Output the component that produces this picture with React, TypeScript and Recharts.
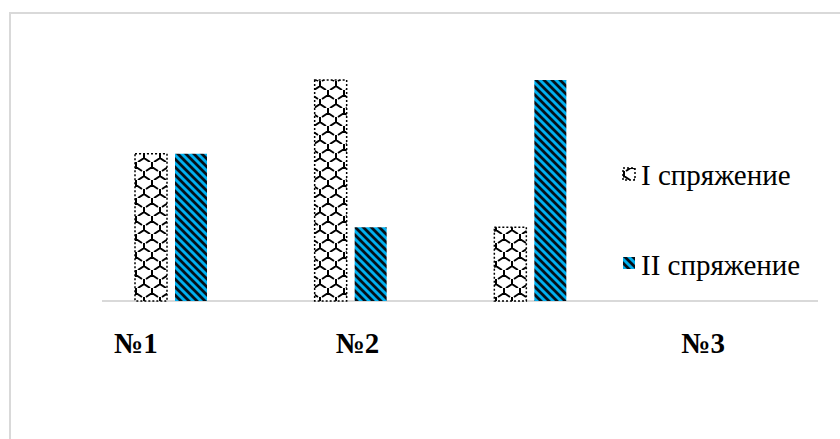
import React from 'react';
import { BarChart, Bar, XAxis, YAxis } from 'recharts';

const categories = ['№1', '№2', '№3'];
const conjugation1 = [4, 6, 2];
const conjugation2 = [4, 2, 6];
const seriesNames = ['I спряжение', 'II спряжение'];

const data = categories.map((name, i) => ({
  name,
  c1: conjugation1[i],
  c2: conjugation2[i],
}));

// horizontal nudge of each category label (the original places them oddly)
const labelShift = [-35, 7, 173];

const serifStyle = { fontFamily: '"Liberation Serif", "Times New Roman", serif' };

function CategoryTick(props: any) {
  const { x, y, payload, index } = props;
  return (
    <text
      x={x + (labelShift[index] || 0)}
      y={y + 44}
      textAnchor="middle"
      style={serifStyle}
      fontWeight="bold"
      fontSize={29}
      fill="#000"
    >
      {payload.value}
    </text>
  );
}

function Patterns() {
  return (
    <defs>
      <pattern id="scales" patternUnits="userSpaceOnUse" width="16" height="18">
        <rect width="16" height="18" fill="#fff" />
        <path
          d="M8,0 V5 L2,9 M8,5 L14,9 M0,9 V14 L-6,18 M0,14 L6,18 M16,9 V14 L10,18 M16,14 L22,18"
          fill="none"
          stroke="#000"
          strokeWidth="2"
        />
      </pattern>
      <pattern id="stripes" patternUnits="userSpaceOnUse" width="8" height="8">
        <rect width="8" height="8" fill="#00b0f0" />
        <path
          d="M-2,-2 L10,10 M-2,6 L2,10 M6,-2 L10,2"
          stroke="#061018"
          strokeWidth="2.8"
        />
      </pattern>
    </defs>
  );
}

export default function App() {
  return (
    <div
      style={{
        position: 'absolute',
        left: 0,
        top: 0,
        width: 840,
        height: 439,
        overflow: 'hidden',
        background: '#fff',
      }}
    >
      <div
        style={{
          position: 'absolute',
          left: 9,
          top: 12,
          width: 860,
          height: 460,
          border: '2px solid #d9d9d9',
        }}
      />
      <div
        style={{
          position: 'absolute',
          left: 102,
          top: 300,
          width: 716,
          height: 2,
          background: '#d9d9d9',
        }}
      />
      <div style={{ position: 'absolute', left: 0, top: 0 }}>
        <BarChart
          width={840}
          height={439}
          data={data}
          margin={{ top: 80, right: 22, left: 81, bottom: 108 }}
          barSize={32}
          barGap={8}
        >
          <Patterns />
          <XAxis
            dataKey="name"
            axisLine={false}
            tickLine={false}
            padding={{ left: 0, right: 198 }}
            height={30}
            tick={<CategoryTick />}
            interval={0}
          />
          <YAxis hide domain={[0, 6]} />
          <Bar
            dataKey="c1"
            name={seriesNames[0]}
            fill="url(#scales)"
            stroke="#000"
            strokeWidth={1.5}
            strokeDasharray="2 2"
            isAnimationActive={false}
          />
          <Bar
            dataKey="c2"
            name={seriesNames[1]}
            fill="url(#stripes)"
            isAnimationActive={false}
          />
        </BarChart>
      </div>
      <svg
        width={840}
        height={439}
        style={{ position: 'absolute', left: 0, top: 0, pointerEvents: 'none' }}
      >
        <rect
          x={623}
          y={168}
          width={12}
          height={12}
          fill="url(#scales)"
          stroke="#000"
          strokeWidth={1.5}
          strokeDasharray="2 2"
        />
        <text x={641} y={185} style={serifStyle} fontSize={29} fill="#000">
          {seriesNames[0]}
        </text>
        <rect x={623} y={257} width={12} height={12} fill="url(#stripes)" />
        <text x={641} y={275} style={serifStyle} fontSize={29} fill="#000">
          {seriesNames[1]}
        </text>
      </svg>
    </div>
  );
}
